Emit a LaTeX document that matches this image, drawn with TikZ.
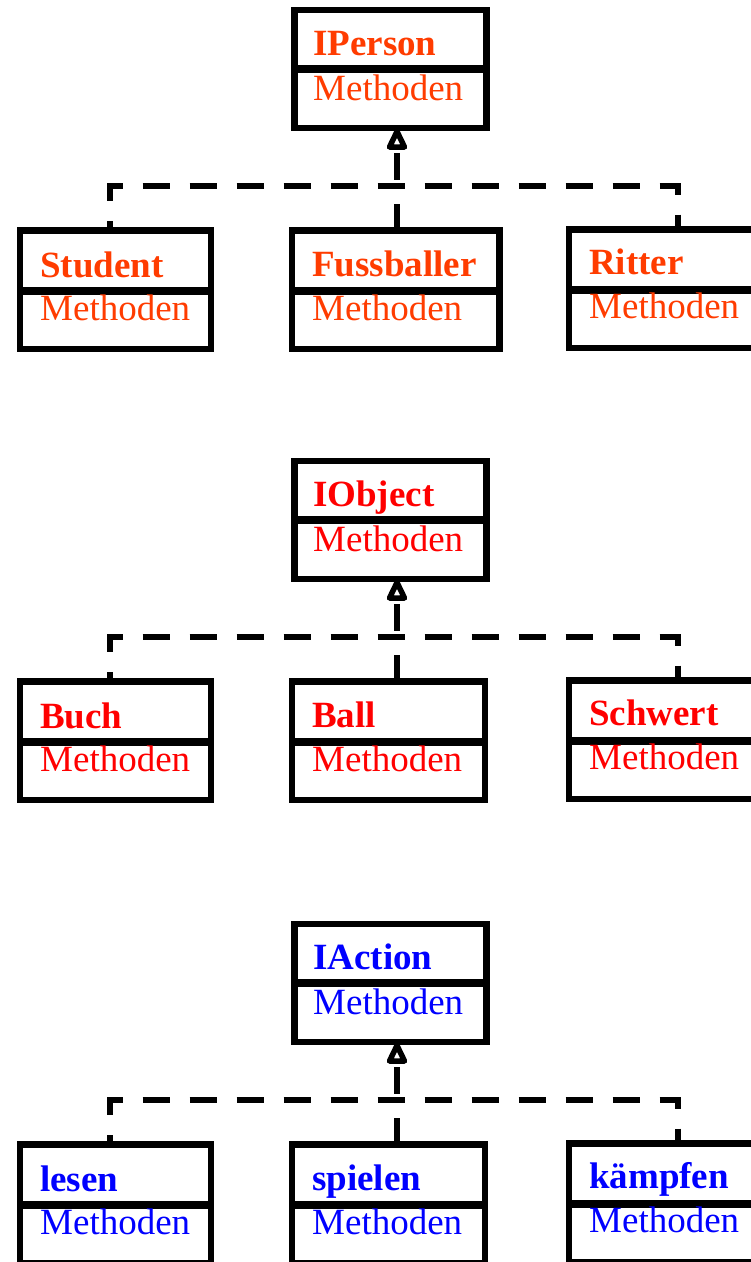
\documentclass[tikz,border=0pt]{standalone}
\usepackage{fontspec}
\setmainfont{Liberation Serif}
\definecolor{cOrange}{RGB}{255,60,0}
\definecolor{cRed}{RGB}{255,0,0}
\definecolor{cBlue}{RGB}{0,0,255}
\tikzset{
  classbox/.style={draw=black, line width=6.5pt, inner sep=0pt, outer sep=0pt, rectangle, anchor=north west},
  divider/.style={line width=8pt},
  nametext/.style={anchor=base west, inner sep=0pt, font=\fontsize{37}{44}\selectfont\bfseries},
  methtext/.style={anchor=base west, inner sep=0pt, font=\fontsize{37}{44}\selectfont},
  dashline/.style={line width=6.5pt, dash pattern=on 27pt off 20pt},
  cornerdash/.style={dashline, dash phase=17pt},
  openhead/.style={draw=black, fill=white, line width=5.5pt, line join=round}
}
% #1 offset, #2 colour, #3 prefix, #4 parent, #5 child a, #6 child b, #7 child c, #8 width of child b
\newcommand\umlgroup[8]{%
\begin{scope}[yshift=-#1pt]
  % parent
  \node[classbox, minimum width=192pt, minimum height=118pt] (#3p) at (294.5,10) {};
  \draw[divider] (#3p.west) -- (#3p.east);
  \node[nametext, text=#2] (#3pn) at (313,55) {#4};
  \node[methtext, text=#2] (#3pm) at (313,100) {Methoden};
  % child a
  \node[classbox, minimum width=191pt, minimum height=118.5pt] (#3a) at (20,230.5) {};
  \draw[divider] ([yshift=-1pt]#3a.west) -- ([yshift=-1pt]#3a.east);
  \node[nametext, text=#2] (#3an) at (40,277) {#5};
  \node[methtext, text=#2] (#3am) at (40,320) {Methoden};
  % child b
  \node[classbox, minimum width=#8pt, minimum height=118.5pt] (#3b) at (292,230.5) {};
  \draw[divider] ([yshift=-1pt]#3b.west) -- ([yshift=-1pt]#3b.east);
  \node[nametext, text=#2] (#3bn) at (312,276) {#6};
  \node[methtext, text=#2] (#3bm) at (312,320) {Methoden};
  % child c
  \node[classbox, minimum width=231pt, minimum height=118.5pt] (#3c) at (569,229.5) {};
  \draw[divider] ([yshift=-1pt]#3c.west) -- ([yshift=-1pt]#3c.east);
  \node[nametext, text=#2] (#3cn) at (589,274) {#7};
  \node[methtext, text=#2] (#3cm) at (589,318) {Methoden};
  % connectors
  \coordinate (#3j) at (397,186);
  \coordinate (#3l) at (110,186);
  \coordinate (#3r) at (678,186);
  \path (#3j |- #3p.south) coordinate (#3t);
  \draw[cornerdash] (#3l |- #3a.north) -- (#3l) -- (#3r) -- (#3r |- #3c.north);
  \draw[dashline] (#3j |- #3b.north) -- (#3j);
  \draw[dashline] ([shift={(0,25)}]#3t) -- (#3j);
  \draw[openhead] ([shift={(0,3.5)}]#3t) -- ([shift={(-7.5,19)}]#3t) -- ([shift={(7.5,19)}]#3t) -- cycle;
\end{scope}}

\begin{document}
\begin{tikzpicture}[x=1pt, y=-1pt]
  \useasboundingbox (0,0) rectangle (751,1262);
  \clip (0,0) rectangle (751,1262);
  \fill[white] (0,0) rectangle (751,1262);
  \umlgroup{0}{cOrange}{g1}{IPerson}{Student}{Fussballer}{Ritter}{207.5}
  \umlgroup{451}{cRed}{g2}{IObject}{Buch}{Ball}{Schwert}{193}
  \umlgroup{914}{cBlue}{g3}{IAction}{lesen}{spielen}{kämpfen}{193}
\end{tikzpicture}
\end{document}
